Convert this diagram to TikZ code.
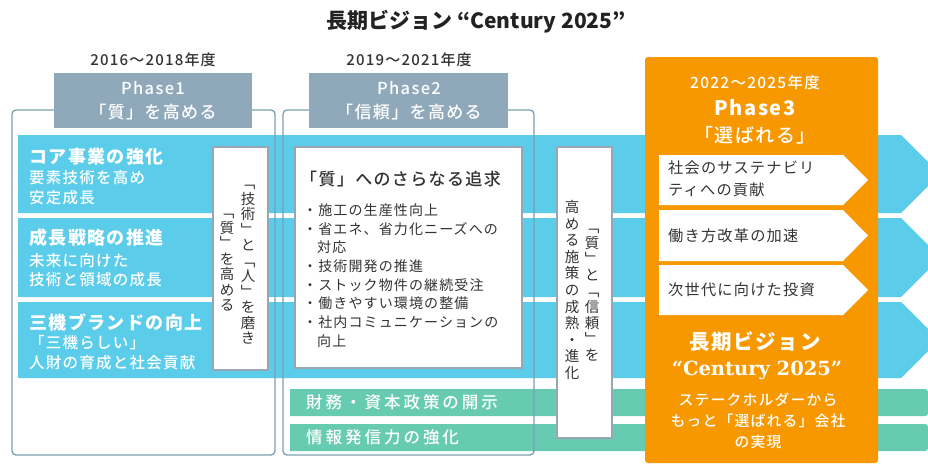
\documentclass[tikz,border=0pt]{standalone}
\usepackage{fontspec}
\setmainfont{Noto Sans CJK JP}
\newfontfamily\jp{Noto Sans CJK JP}
\newfontfamily\jpa{Noto Sans CJK JP}[LetterSpace=8]
\newfontfamily\jpm{Noto Sans CJK JP Medium}[LetterSpace=8]
\newfontfamily\jpmb{Noto Sans CJK JP Medium}[LetterSpace=18]
\newfontfamily\cent{DejaVu Serif}
\newcommand\fz[2]{\fontsize{#1}{#2}\selectfont}
\definecolor{bandblue}{RGB}{91,205,234}
\definecolor{bandgreen}{RGB}{102,203,176}
\definecolor{phasegray}{RGB}{143,169,186}
\definecolor{framecol}{RGB}{122,160,176}
\definecolor{boxedge}{RGB}{150,166,178}
\definecolor{orng}{RGB}{247,152,0}
\definecolor{ink}{RGB}{51,51,51}
\tikzset{
  frameline/.style={draw=framecol, line width=1.3pt, rounded corners=4pt},
  wbox/.style={draw=boxedge, fill=white, line width=1.5pt},
  txt/.style={inner sep=0pt, text=ink},
  wtxt/.style={inner sep=0pt, text=white},
  vtxt/.style={inner sep=0pt, text=ink, align=center},
}
\begin{document}
\begin{tikzpicture}[x=1pt,y=-1pt]
\useasboundingbox (0,0) rectangle (928,464);
\clip (0,0) rectangle (928,464);
\fill[white] (0,0) rectangle (928,464);
% blue bands
\fill[bandblue] (18,135) -- (901,135) -- (940,174) -- (901,213) -- (18,213) -- cycle;
\fill[bandblue] (18,218) -- (901,218) -- (940.5,257.5) -- (901,297) -- (18,297) -- cycle;
\fill[bandblue] (18,302) -- (901,302) -- (939,340) -- (901,378) -- (18,378) -- cycle;
% green bands
\fill[bandgreen] (290,416) -- (290,389) [rounded corners=3pt] -- (928,389) -- (928,416) [sharp corners] -- cycle;
\fill[bandgreen] (290,451) -- (290,424) [rounded corners=3pt] -- (928,424) -- (928,451) [sharp corners] -- cycle;
% frames
\draw[frameline] (12,110) rectangle (275,455);
\draw[frameline] (283,110) rectangle (534,455);
% phase boxes
\fill[phasegray] (54,73) rectangle (252,128);
\fill[phasegray] (309,73) rectangle (508,128);
% white boxes
\draw[wbox] (213,147) rectangle (268,370);
\draw[wbox] (295,147) rectangle (522,368);
\draw[wbox] (557,147) rectangle (612,438);
% orange box
\fill[orng, rounded corners=3pt] (645,57) rectangle (878,463);
\fill[white] (659,155) -- (843,155) -- (868,180) -- (843,205) -- (659,205) -- cycle;
\fill[white] (659,210) -- (843,210) -- (868,235.5) -- (843,261) -- (659,261) -- cycle;
\fill[white] (659,265) -- (843,265) -- (868,290) -- (843,315) -- (659,315) -- cycle;

% title
\node[txt, text={rgb,255:red,34;green,34;blue,34}, font=\jp\bfseries\fz{21}{24}] (title) at (476,22) {長期ビジョン “Century 2025”};
% years
\node[txt, font=\jpm\fz{15}{18}] (y1) at (153,60) {2016〜2018年度};
\node[txt, font=\jpm\fz{15}{18}] (y2) at (409,60) {2019〜2021年度};
% phase labels
\node[wtxt, font=\jpm\fz{16.5}{18}] (p1a) at (153,88) {Phase1};
\node[wtxt, font=\jpm\fz{17}{18}] (p1b) at (153,112) {「質」を高める};
\node[wtxt, font=\jpm\fz{16.5}{18}] (p2a) at (409,88) {Phase2};
\node[wtxt, font=\jpm\fz{17}{18}] (p2b) at (409,112) {「信頼」を高める};
% left rows
\node[wtxt, anchor=west, font=\jpa\bfseries\fz{18}{20}] (r1t) at (29,157) {コア事業の強化};
\node[wtxt, anchor=west, align=left, font=\jpm\fz{15.5}{20}] (r1s) at (29,188) {要素技術を高め\\安定成長};
\node[wtxt, anchor=west, font=\jpa\bfseries\fz{18}{20}] (r2t) at (29,238) {成長戦略の推進};
\node[wtxt, anchor=west, align=left, font=\jpm\fz{15.5}{19}] (r2s) at (29,270.5) {未来に向けた\\技術と領域の成長};
\node[wtxt, anchor=west, font=\jpa\bfseries\fz{18}{20}] (r3t) at (29,322) {三機ブランドの向上};
\node[wtxt, anchor=west, align=left, font=\jpm\fz{15.5}{20}] (r3s) at (29,353) {「三機らしい」\\人財の育成と社会貢献};
% vertical texts
\node[vtxt, font=\jp\fz{14.5}{15.5}] (v1r) at (248,265) {﹁\\技\\術\\﹂\\と\\﹁\\人\\﹂\\を\\磨\\き};
\node[vtxt, font=\jp\fz{14.5}{15.5}] (v1l) at (227,263) {﹁\\質\\﹂\\を\\高\\め\\る};
\node[vtxt, font=\jp\fz{14.5}{16}] (v2r) at (592,295) {﹁\\質\\﹂\\と\\﹁\\信\\頼\\﹂\\を};
\node[vtxt, font=\jp\fz{14.5}{16.6}] (v2l) at (572,290) {高\\め\\る\\施\\策\\の\\成\\熟\\・\\進\\化};
% central box
\node[txt, anchor=west, font=\jpm\fz{17}{20}] (ct) at (300,179) {「質」へのさらなる追求};
\node[txt, anchor=west, align=left, font=\jpa\fz{14}{18.7}] (cl) at (303,275.5) {・施工の生産性向上\\・省エネ、省力化ニーズへの\\\phantom{・}対応\\・技術開発の推進\\・ストック物件の継続受注\\・働きやすい環境の整備\\・社内コミュニケーションの\\\phantom{・}向上};
% green texts
\node[wtxt, anchor=west, font=\jpmb\fz{16.5}{18}] (g1) at (306,402.5) {財務・資本政策の開示};
\node[wtxt, anchor=west, font=\jpmb\fz{16.5}{18}] (g2) at (306,437.5) {情報発信力の強化};
% phase 3
\node[wtxt, font=\jpm\fz{15.5}{18}] (y3) at (755,83) {2022〜2025年度};
\node[wtxt, font=\jpa\bfseries\fz{20}{22}] (p3a) at (755,108) {Phase3};
\node[wtxt, font=\jpm\fz{19}{22}] (p3b) at (755,135) {「選ばれる」};
\node[txt, anchor=west, align=left, font=\jpa\fz{15.2}{22}] (a1) at (668,179) {社会のサステナビリ\\ティへの貢献};
\node[txt, anchor=west, font=\jpa\fz{15.2}{18}] (a2) at (668,235.5) {働き方改革の加速};
\node[txt, anchor=west, font=\jpa\fz{15.2}{18}] (a3) at (668,290) {次世代に向けた投資};
\node[wtxt, font=\jpa\bfseries\fz{20.5}{24}] (lv) at (755,342) {長期ビジョン};
\node[wtxt, font=\cent\bfseries\fz{19.5}{22}] (cy) at (757,370) {“Century 2025”};
\node[wtxt, align=center, font=\jpm\fz{14.8}{21}] (goal) at (758,421) {ステークホルダーから\\もっと「選ばれる」会社\\の実現};
\end{tikzpicture}
\end{document}
